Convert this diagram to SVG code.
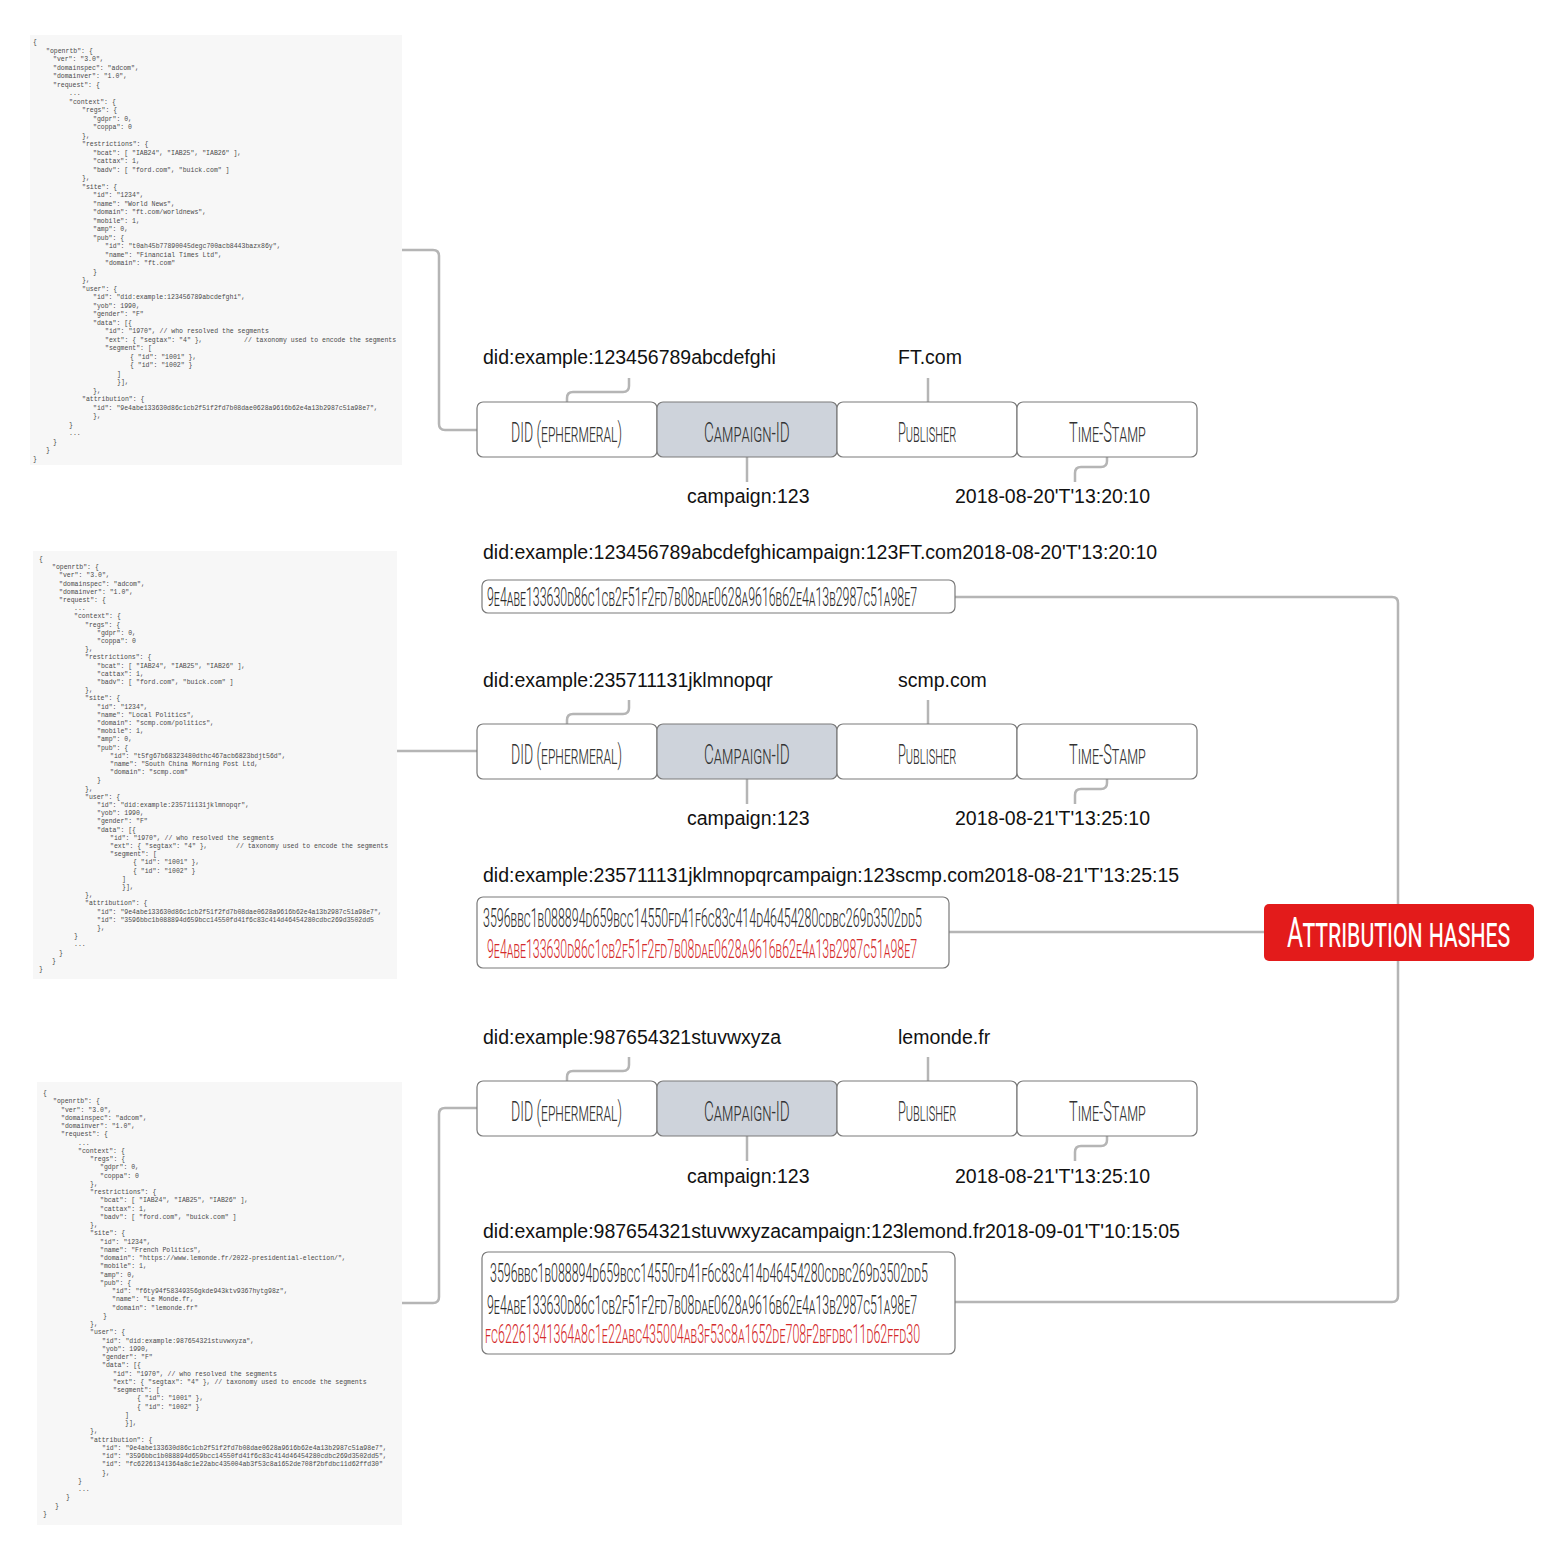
<svg xmlns="http://www.w3.org/2000/svg" width="1566" height="1560" viewBox="0 0 1566 1560">
<style>
.bg{fill:#f7f7f7}
.code{font-family:"Liberation Mono","DejaVu Sans Mono",monospace;font-size:6.5px;fill:#4a4a4a}
.lbl{font-family:"Liberation Sans",Arial,sans-serif;font-size:19.5px;fill:#111}
.seg{fill:#fff;stroke:#7a7a7a;stroke-width:1.2}
.segc{fill:#ced3db;stroke:#7a7a7a;stroke-width:1.2}
.sl{font-family:Roboto,"DejaVu Sans",sans-serif;font-weight:300;font-variant:small-caps;font-size:27px;fill:#333}
.hbox{fill:#fff;stroke:#7a7a7a;stroke-width:1.2}
.hash{font-family:Roboto,"DejaVu Sans",sans-serif;font-weight:300;font-variant:small-caps;font-size:25px;fill:#2a2a2a}
.red{fill:#d42a2a}
.conn{fill:none;stroke:#b5b5b5;stroke-width:2.5}
.attr{font-family:Roboto,"DejaVu Sans",sans-serif;font-weight:400;font-variant:small-caps;font-size:42px;fill:#fff}
</style>
<rect width="1566" height="1560" fill="#fff"/>

<g id="connectors">
<path class="conn" d="M402,250 H433 Q439,250 439,256 V424 Q439,430 445,430 H477"/>
<path class="conn" d="M397,751 H477"/>
<path class="conn" d="M402,1303 H433 Q439,1303 439,1297 V1114 Q439,1108 445,1108 H477"/>
<path class="conn" d="M567,402 V398 Q567,392 573,392 H623 Q629,392 629,386 V378"/>
<path class="conn" d="M928,378 V402"/>
<path class="conn" d="M747,457 V482"/>
<path class="conn" d="M1107,457 V461 Q1107,467 1101,467 H1081 Q1075,467 1075,473 V482"/>
<path class="conn" d="M567,724 V720 Q567,714 573,714 H623 Q629,714 629,708 V700"/>
<path class="conn" d="M928,700 V724"/>
<path class="conn" d="M747,779 V804"/>
<path class="conn" d="M1107,779 V783 Q1107,789 1101,789 H1081 Q1075,789 1075,795 V804"/>
<path class="conn" d="M567,1081 V1077 Q567,1071 573,1071 H623 Q629,1071 629,1065 V1057"/>
<path class="conn" d="M928,1057 V1081"/>
<path class="conn" d="M747,1136 V1161"/>
<path class="conn" d="M1107,1136 V1140 Q1107,1146 1101,1146 H1081 Q1075,1146 1075,1152 V1161"/>
<path class="conn" d="M955,597 H1392 Q1398,597 1398,603 V1296 Q1398,1302 1392,1302 H955"/>
<path class="conn" d="M949,932 H1264"/>
</g>

<g id="code1">
<rect class="bg" x="30" y="35" width="372" height="430"/>
<g class="code">
<text x="33" y="44">{</text>
<text x="46" y="52.5">"openrtb": {</text>
<text x="53" y="61">"ver": "3.0",</text>
<text x="53" y="69.5">"domainspec": "adcom",</text>
<text x="53" y="78">"domainver": "1.0",</text>
<text x="53" y="86.5">"request": {</text>
<text x="69" y="95">...</text>
<text x="69" y="103.5">"context": {</text>
<text x="82" y="112">"regs": {</text>
<text x="93" y="120.5">"gdpr": 0,</text>
<text x="93" y="129">"coppa": 0</text>
<text x="82" y="137.5">},</text>
<text x="82" y="146">"restrictions": {</text>
<text x="93" y="154.5">"bcat": [ "IAB24", "IAB25", "IAB26" ],</text>
<text x="93" y="163">"cattax": 1,</text>
<text x="93" y="171.5">"badv": [ "ford.com", "buick.com" ]</text>
<text x="82" y="180">},</text>
<text x="82" y="188.5">"site": {</text>
<text x="93" y="197">"id": "1234",</text>
<text x="93" y="205.5">"name": "World News",</text>
<text x="93" y="214">"domain": "ft.com/worldnews",</text>
<text x="93" y="222.5">"mobile": 1,</text>
<text x="93" y="231">"amp": 0,</text>
<text x="93" y="239.5">"pub": {</text>
<text x="105" y="248">"id": "t0ah45b77890045degc700acb8443bazx86y",</text>
<text x="105" y="256.5">"name": "Financial Times Ltd",</text>
<text x="105" y="265">"domain": "ft.com"</text>
<text x="93" y="273.5">}</text>
<text x="82" y="282">},</text>
<text x="82" y="290.5">"user": {</text>
<text x="93" y="299">"id": "did:example:123456789abcdefghi",</text>
<text x="93" y="307.5">"yob": 1990,</text>
<text x="93" y="316">"gender": "F"</text>
<text x="93" y="324.5">"data": [{</text>
<text x="105" y="333">"id": "1970", // who resolved the segments</text>
<text x="105" y="341.5">"ext": { "segtax": "4" },</text>
<text x="244" y="341.5">// taxonomy used to encode the segments</text>
<text x="105" y="350">"segment": [</text>
<text x="130" y="358.5">{ "id": "1001" },</text>
<text x="130" y="367">{ "id": "1002" }</text>
<text x="117" y="375.5">]</text>
<text x="117" y="384">}],</text>
<text x="93" y="392.5">},</text>
<text x="82" y="401">"attribution": {</text>
<text x="93" y="409.5">"id": "9e4abe133630d86c1cb2f51f2fd7b08dae0628a9616b62e4a13b2987c51a98e7",</text>
<text x="93" y="418">},</text>
<text x="69" y="426.5">}</text>
<text x="69" y="435">...</text>
<text x="53" y="443.5">}</text>
<text x="46" y="452">}</text>
<text x="33" y="460.5">}</text>
</g>
</g>

<g id="code2">
<rect class="bg" x="33" y="551" width="364" height="428"/>
<g class="code">
<text x="39" y="561">{</text>
<text x="52" y="569.2">"openrtb": {</text>
<text x="59" y="577.4">"ver": "3.0",</text>
<text x="59" y="585.6">"domainspec": "adcom",</text>
<text x="59" y="593.8">"domainver": "1.0",</text>
<text x="59" y="602">"request": {</text>
<text x="74" y="610.2">...</text>
<text x="74" y="618.4">"context": {</text>
<text x="85" y="626.6">"regs": {</text>
<text x="97" y="634.8">"gdpr": 0,</text>
<text x="97" y="643">"coppa": 0</text>
<text x="85" y="651.2">},</text>
<text x="85" y="659.4">"restrictions": {</text>
<text x="97" y="667.6">"bcat": [ "IAB24", "IAB25", "IAB26" ],</text>
<text x="97" y="675.8">"cattax": 1,</text>
<text x="97" y="684">"badv": [ "ford.com", "buick.com" ]</text>
<text x="85" y="692.2">},</text>
<text x="85" y="700.4">"site": {</text>
<text x="97" y="708.6">"id": "1234",</text>
<text x="97" y="716.8">"name": "Local Politics",</text>
<text x="97" y="725">"domain": "scmp.com/politics",</text>
<text x="97" y="733.2">"mobile": 1,</text>
<text x="97" y="741.4">"amp": 0,</text>
<text x="97" y="749.6">"pub": {</text>
<text x="110" y="757.8">"id": "t5fg67b68323480dthc467acb6823bdjt56d",</text>
<text x="110" y="766">"name": "South China Morning Post Ltd,</text>
<text x="110" y="774.2">"domain": "scmp.com"</text>
<text x="97" y="782.4">}</text>
<text x="85" y="790.6">},</text>
<text x="85" y="798.8">"user": {</text>
<text x="97" y="807">"id": "did:example:235711131jklmnopqr",</text>
<text x="97" y="815.2">"yob": 1990,</text>
<text x="97" y="823.4">"gender": "F"</text>
<text x="97" y="831.6">"data": [{</text>
<text x="110" y="839.8">"id": "1970", // who resolved the segments</text>
<text x="110" y="848">"ext": { "segtax": "4" },</text>
<text x="236" y="848">// taxonomy used to encode the segments</text>
<text x="110" y="856.2">"segment": [</text>
<text x="133" y="864.4">{ "id": "1001" },</text>
<text x="133" y="872.6">{ "id": "1002" }</text>
<text x="122" y="880.8">]</text>
<text x="122" y="889">}],</text>
<text x="85" y="897.2">},</text>
<text x="85" y="905.4">"attribution": {</text>
<text x="97" y="913.6">"id": "9e4abe133630d86c1cb2f51f2fd7b08dae0628a9616b62e4a13b2987c51a98e7",</text>
<text x="97" y="921.8">"id": "3596bbc1b088894d659bcc14550fd41f6c83c414d46454280cdbc269d3502dd5</text>
<text x="97" y="930">},</text>
<text x="74" y="938.2">}</text>
<text x="74" y="946.4">...</text>
<text x="59" y="954.6">}</text>
<text x="52" y="962.8">}</text>
<text x="39" y="971">}</text>
</g>
</g>

<g id="code3">
<rect class="bg" x="37" y="1082" width="365" height="443"/>
<g class="code">
<text x="43" y="1095">{</text>
<text x="53" y="1103.25">"openrtb": {</text>
<text x="61" y="1111.5">"ver": "3.0",</text>
<text x="61" y="1119.75">"domainspec": "adcom",</text>
<text x="61" y="1128">"domainver": "1.0",</text>
<text x="61" y="1136.25">"request": {</text>
<text x="78" y="1144.5">...</text>
<text x="78" y="1152.75">"context": {</text>
<text x="90" y="1161">"regs": {</text>
<text x="100" y="1169.25">"gdpr": 0,</text>
<text x="100" y="1177.5">"coppa": 0</text>
<text x="90" y="1185.75">},</text>
<text x="90" y="1194">"restrictions": {</text>
<text x="100" y="1202.25">"bcat": [ "IAB24", "IAB25", "IAB26" ],</text>
<text x="100" y="1210.5">"cattax": 1,</text>
<text x="100" y="1218.75">"badv": [ "ford.com", "buick.com" ]</text>
<text x="90" y="1227">},</text>
<text x="90" y="1235.25">"site": {</text>
<text x="100" y="1243.5">"id": "1234",</text>
<text x="100" y="1251.75">"name": "French Politics",</text>
<text x="100" y="1260">"domain": "https://www.lemonde.fr/2022-presidential-election/",</text>
<text x="100" y="1268.25">"mobile": 1,</text>
<text x="100" y="1276.5">"amp": 0,</text>
<text x="100" y="1284.75">"pub": {</text>
<text x="112" y="1293">"id": "f6ty94f58349356gkde943ktv9367hytg98z",</text>
<text x="112" y="1301.25">"name": "Le Monde.fr,</text>
<text x="112" y="1309.5">"domain": "lemonde.fr"</text>
<text x="103" y="1317.75">}</text>
<text x="90" y="1326">},</text>
<text x="90" y="1334.25">"user": {</text>
<text x="102" y="1342.5">"id": "did:example:987654321stuvwxyza",</text>
<text x="102" y="1350.75">"yob": 1990,</text>
<text x="102" y="1359">"gender": "F"</text>
<text x="102" y="1367.25">"data": [{</text>
<text x="113" y="1375.5">"id": "1970", // who resolved the segments</text>
<text x="113" y="1383.75">"ext": { "segtax": "4" }, // taxonomy used to encode the segments</text>
<text x="113" y="1392">"segment": [</text>
<text x="137" y="1400.25">{ "id": "1001" },</text>
<text x="137" y="1408.5">{ "id": "1002" }</text>
<text x="125" y="1416.75">]</text>
<text x="125" y="1425">}],</text>
<text x="90" y="1433.25">},</text>
<text x="90" y="1441.5">"attribution": {</text>
<text x="102" y="1449.75">"id": "9e4abe133630d86c1cb2f51f2fd7b08dae0628a9616b62e4a13b2987c51a98e7",</text>
<text x="102" y="1458">"id": "3596bbc1b088894d659bcc14550fd41f6c83c414d46454280cdbc269d3502dd5",</text>
<text x="102" y="1466.25">"id": "fc62261341364a8c1e22abc435004ab3f53c8a1652de708f2bfdbc11d62ffd30"</text>
<text x="102" y="1474.5">},</text>
<text x="78" y="1482.75">}</text>
<text x="78" y="1491">...</text>
<text x="66" y="1499.25">}</text>
<text x="55" y="1507.5">}</text>
<text x="43" y="1515.75">}</text>
</g>
</g>

<g id="row1">
<text class="lbl" x="483" y="364">did:example:123456789abcdefghi</text>
<text class="lbl" x="898" y="364">FT.com</text>
<g id="r1-did"><rect class="seg" x="477" y="402" width="180" height="55" rx="6"/><text class="sl" transform="translate(511 442) scale(0.6 1)" textLength="185" lengthAdjust="spacingAndGlyphs">DID (ephermeral)</text></g>
<g id="r1-camp"><rect class="segc" x="657" y="402" width="180" height="55" rx="6"/><text class="sl" transform="translate(704 442) scale(0.6 1)" textLength="143" lengthAdjust="spacingAndGlyphs">Campaign-ID</text></g>
<g id="r1-pub"><rect class="seg" x="837" y="402" width="180" height="55" rx="6"/><text class="sl" transform="translate(898 442) scale(0.6 1)" textLength="97" lengthAdjust="spacingAndGlyphs">Publisher</text></g>
<g id="r1-ts"><rect class="seg" x="1017" y="402" width="180" height="55" rx="6"/><text class="sl" transform="translate(1069 442) scale(0.6 1)" textLength="128" lengthAdjust="spacingAndGlyphs">Time-Stamp</text></g>
<text class="lbl" x="687" y="503">campaign:123</text>
<text class="lbl" x="955" y="503">2018-08-20'T'13:20:10</text>
<text class="lbl" x="483" y="559">did:example:123456789abcdefghicampaign:123FT.com2018-08-20'T'13:20:10</text>
<g id="hash1"><rect class="hbox" x="482" y="580" width="473" height="33" rx="6"/>
<text class="hash" transform="translate(487 606) scale(0.52 1)" textLength="827" lengthAdjust="spacingAndGlyphs">9e4abe133630d86c1cb2f51f2fd7b08dae0628a9616b62e4a13b2987c51a98e7</text></g>
</g>

<g id="row2">
<text class="lbl" x="483" y="687">did:example:235711131jklmnopqr</text>
<text class="lbl" x="898" y="687">scmp.com</text>
<g id="r2-did"><rect class="seg" x="477" y="724" width="180" height="55" rx="6"/><text class="sl" transform="translate(511 764) scale(0.6 1)" textLength="185" lengthAdjust="spacingAndGlyphs">DID (ephermeral)</text></g>
<g id="r2-camp"><rect class="segc" x="657" y="724" width="180" height="55" rx="6"/><text class="sl" transform="translate(704 764) scale(0.6 1)" textLength="143" lengthAdjust="spacingAndGlyphs">Campaign-ID</text></g>
<g id="r2-pub"><rect class="seg" x="837" y="724" width="180" height="55" rx="6"/><text class="sl" transform="translate(898 764) scale(0.6 1)" textLength="97" lengthAdjust="spacingAndGlyphs">Publisher</text></g>
<g id="r2-ts"><rect class="seg" x="1017" y="724" width="180" height="55" rx="6"/><text class="sl" transform="translate(1069 764) scale(0.6 1)" textLength="128" lengthAdjust="spacingAndGlyphs">Time-Stamp</text></g>
<text class="lbl" x="687" y="825">campaign:123</text>
<text class="lbl" x="955" y="825">2018-08-21'T'13:25:10</text>
<text class="lbl" x="483" y="882">did:example:235711131jklmnopqrcampaign:123scmp.com2018-08-21'T'13:25:15</text>
<g id="hash2"><rect class="hbox" x="477" y="897" width="472" height="71" rx="6"/>
<text class="hash" transform="translate(483 927) scale(0.52 1)" textLength="844" lengthAdjust="spacingAndGlyphs">3596bbc1b088894d659bcc14550fd41f6c83c414d46454280cdbc269d3502dd5</text>
<text class="hash red" transform="translate(487 958) scale(0.52 1)" textLength="827" lengthAdjust="spacingAndGlyphs">9e4abe133630d86c1cb2f51f2fd7b08dae0628a9616b62e4a13b2987c51a98e7</text></g>
</g>

<g id="row3">
<text class="lbl" x="483" y="1044">did:example:987654321stuvwxyza</text>
<text class="lbl" x="898" y="1044">lemonde.fr</text>
<g id="r3-did"><rect class="seg" x="477" y="1081" width="180" height="55" rx="6"/><text class="sl" transform="translate(511 1121) scale(0.6 1)" textLength="185" lengthAdjust="spacingAndGlyphs">DID (ephermeral)</text></g>
<g id="r3-camp"><rect class="segc" x="657" y="1081" width="180" height="55" rx="6"/><text class="sl" transform="translate(704 1121) scale(0.6 1)" textLength="143" lengthAdjust="spacingAndGlyphs">Campaign-ID</text></g>
<g id="r3-pub"><rect class="seg" x="837" y="1081" width="180" height="55" rx="6"/><text class="sl" transform="translate(898 1121) scale(0.6 1)" textLength="97" lengthAdjust="spacingAndGlyphs">Publisher</text></g>
<g id="r3-ts"><rect class="seg" x="1017" y="1081" width="180" height="55" rx="6"/><text class="sl" transform="translate(1069 1121) scale(0.6 1)" textLength="128" lengthAdjust="spacingAndGlyphs">Time-Stamp</text></g>
<text class="lbl" x="687" y="1183">campaign:123</text>
<text class="lbl" x="955" y="1183">2018-08-21'T'13:25:10</text>
<text class="lbl" x="483" y="1238">did:example:987654321stuvwxyzacampaign:123lemond.fr2018-09-01'T'10:15:05</text>
<g id="hash3"><rect class="hbox" x="482" y="1252" width="473" height="102" rx="6"/>
<text class="hash" transform="translate(490 1282) scale(0.52 1)" textLength="842" lengthAdjust="spacingAndGlyphs">3596bbc1b088894d659bcc14550fd41f6c83c414d46454280cdbc269d3502dd5</text>
<text class="hash" transform="translate(487 1314) scale(0.52 1)" textLength="827" lengthAdjust="spacingAndGlyphs">9e4abe133630d86c1cb2f51f2fd7b08dae0628a9616b62e4a13b2987c51a98e7</text>
<text class="hash red" transform="translate(485 1343) scale(0.52 1)" textLength="837" lengthAdjust="spacingAndGlyphs">fc62261341364a8c1e22abc435004ab3f53c8a1652de708f2bfdbc11d62ffd30</text></g>
</g>

<g id="attribution-hashes">
<rect x="1264" y="904" width="270" height="57" rx="5" fill="#e31b1b"/>
<text class="attr" transform="translate(1287 947) scale(0.7 1)" textLength="319" lengthAdjust="spacingAndGlyphs">Attribution hashes</text>
</g>
</svg>
